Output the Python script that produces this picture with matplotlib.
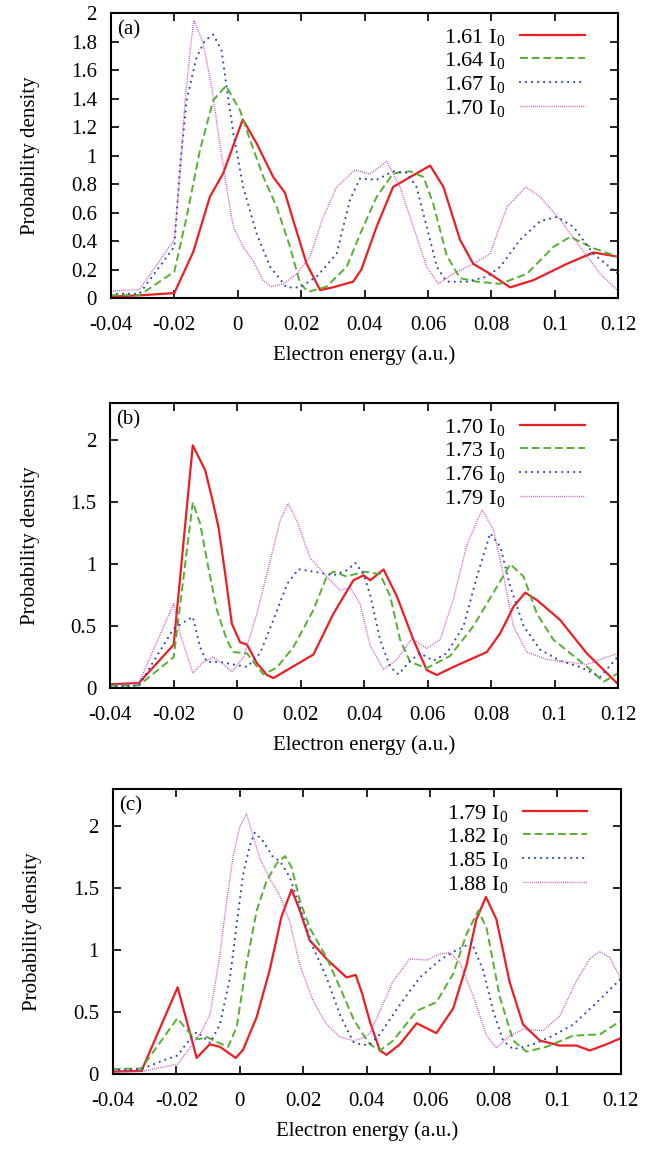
import matplotlib
matplotlib.use("Agg")
import matplotlib.pyplot as plt

plt.rcParams['font.family'] = ['Liberation Serif', 'DejaVu Serif']
plt.rcParams['mathtext.fontset'] = 'custom'
plt.rcParams['mathtext.rm'] = 'Liberation Serif'
plt.rcParams['mathtext.it'] = 'Liberation Serif'
plt.rcParams['axes.unicode_minus'] = False

# ---- panel (a) ----
a_labels = ["1.61 I$_0$", "1.64 I$_0$", "1.67 I$_0$", "1.70 I$_0$"]
a1_x = [-0.04, -0.03, -0.02, -0.014, -0.0088, -0.0046, 0.0016, 0.006, 0.0112, 0.0149, 0.0175, 0.0217, 0.026, 0.030, 0.0364, 0.039, 0.0438, 0.049, 0.0544, 0.0607, 0.0649, 0.0701, 0.0743, 0.0796, 0.0859, 0.0933, 0.1038, 0.1122, 0.12]
a1_y = [0.01, 0.02, 0.035, 0.325, 0.71, 0.875, 1.254, 1.085, 0.85, 0.74, 0.547, 0.243, 0.056, 0.075, 0.115, 0.2, 0.50, 0.78, 0.85, 0.93, 0.78, 0.41, 0.24, 0.17, 0.075, 0.126, 0.24, 0.32, 0.29]
a2_x = [-0.04, -0.031, -0.02, -0.0161, -0.0119, -0.0077, -0.0037, 0.0007, 0.0039, 0.0081, 0.0123, 0.0165, 0.0197, 0.0223, 0.028, 0.0344, 0.0386, 0.0438, 0.049, 0.0544, 0.0586, 0.0617, 0.0659, 0.0701, 0.0754, 0.0828, 0.0912, 0.0996, 0.1049, 0.1122, 0.12]
a2_y = [0.02, 0.02, 0.185, 0.57, 1.04, 1.39, 1.49, 1.32, 1.11, 0.85, 0.64, 0.36, 0.10, 0.044, 0.08, 0.22, 0.45, 0.71, 0.875, 0.89, 0.85, 0.66, 0.30, 0.14, 0.115, 0.10, 0.17, 0.36, 0.43, 0.35, 0.29]
a3_x = [-0.04, -0.031, -0.02, -0.0182, -0.0161, -0.013, -0.0103, -0.0077, -0.0051, -0.0035, -0.0014, 0.0017, 0.006, 0.0102, 0.0154, 0.0196, 0.0249, 0.0312, 0.0354, 0.0386, 0.0438, 0.049, 0.0533, 0.0564, 0.0596, 0.0628, 0.0659, 0.0722, 0.0786, 0.0828, 0.0891, 0.0954, 0.1007, 0.1059, 0.1122, 0.12]
a3_y = [0.03, 0.03, 0.36, 0.92, 1.39, 1.69, 1.81, 1.85, 1.74, 1.48, 1.16, 0.78, 0.45, 0.22, 0.075, 0.075, 0.15, 0.31, 0.69, 0.84, 0.83, 0.89, 0.88, 0.78, 0.50, 0.22, 0.115, 0.115, 0.15, 0.22, 0.41, 0.54, 0.57, 0.50, 0.31, 0.17]
a4_x = [-0.04, -0.031, -0.02, -0.0182, -0.0166, -0.015, -0.0138, -0.0109, -0.0082, -0.0056, -0.0035, -0.0014, 0.0017, 0.0049, 0.0081, 0.0107, 0.0144, 0.0186, 0.0228, 0.027, 0.0312, 0.037, 0.0417, 0.047, 0.0512, 0.0554, 0.0596, 0.0633, 0.068, 0.0743, 0.0796, 0.0849, 0.0909, 0.0954, 0.1017, 0.108, 0.1143, 0.12]
a4_y = [0.05, 0.06, 0.41, 0.87, 1.39, 1.74, 1.95, 1.79, 1.48, 1.08, 0.78, 0.50, 0.36, 0.26, 0.12, 0.08, 0.10, 0.17, 0.29, 0.57, 0.78, 0.90, 0.87, 0.96, 0.78, 0.50, 0.22, 0.10, 0.17, 0.24, 0.31, 0.64, 0.78, 0.71, 0.55, 0.36, 0.17, 0.05]

# ---- panel (b) ----
b_labels = ["1.70 I$_0$", "1.73 I$_0$", "1.76 I$_0$", "1.79 I$_0$"]
b1_x = [-0.04, -0.031, -0.02, -0.014, -0.0101, -0.008, -0.0059, -0.0038, -0.0017, 0.0009, 0.0031, 0.0062, 0.0094, 0.0114, 0.0157, 0.024, 0.0303, 0.0366, 0.0398, 0.0419, 0.0461, 0.0503, 0.0555, 0.0597, 0.0629, 0.0681, 0.0786, 0.0828, 0.087, 0.0907, 0.0944, 0.1017, 0.1101, 0.12]
b1_y = [0.03, 0.04, 0.35, 1.96, 1.76, 1.54, 1.30, 0.925, 0.52, 0.37, 0.35, 0.20, 0.105, 0.08, 0.145, 0.27, 0.60, 0.87, 0.91, 0.87, 0.957, 0.74, 0.39, 0.145, 0.105, 0.17, 0.29, 0.44, 0.655, 0.77, 0.71, 0.55, 0.28, 0.03]
b2_x = [-0.04, -0.031, -0.02, -0.014, -0.0117, -0.009, -0.0064, -0.0033, -0.0012, 0.0031, 0.0057, 0.0083, 0.0125, 0.0177, 0.024, 0.0282, 0.0303, 0.0345, 0.0398, 0.045, 0.0482, 0.0513, 0.0545, 0.0597, 0.0671, 0.0744, 0.0807, 0.086, 0.0902, 0.0944, 0.0996, 0.1059, 0.1112, 0.1154, 0.12]
b2_y = [0.02, 0.02, 0.25, 1.50, 1.33, 0.96, 0.63, 0.39, 0.29, 0.28, 0.19, 0.11, 0.165, 0.33, 0.63, 0.90, 0.94, 0.90, 0.94, 0.92, 0.74, 0.39, 0.21, 0.16, 0.26, 0.50, 0.77, 1.00, 0.90, 0.60, 0.39, 0.26, 0.15, 0.05, 0.12]
b3_x = [-0.04, -0.031, -0.02, -0.014, -0.0117, -0.0096, -0.0054, -0.0012, 0.0031, 0.0072, 0.0114, 0.0157, 0.0193, 0.024, 0.0303, 0.0345, 0.0372, 0.0398, 0.0419, 0.045, 0.0482, 0.0508, 0.0545, 0.0576, 0.0618, 0.066, 0.0713, 0.0755, 0.0797, 0.0829, 0.086, 0.0902, 0.0954, 0.1017, 0.108, 0.1143, 0.12]
b3_y = [0.01, 0.02, 0.48, 0.575, 0.33, 0.21, 0.21, 0.19, 0.17, 0.28, 0.55, 0.84, 0.96, 0.94, 0.91, 0.95, 1.01, 0.92, 0.75, 0.39, 0.17, 0.11, 0.22, 0.28, 0.22, 0.28, 0.50, 0.90, 1.25, 1.14, 0.82, 0.50, 0.31, 0.22, 0.17, 0.09, 0.255]
b4_x = [-0.04, -0.031, -0.02, -0.018, -0.014, -0.0106, -0.0075, -0.0043, -0.0017, 0.002, 0.0062, 0.0104, 0.0135, 0.016, 0.0188, 0.023, 0.0282, 0.0324, 0.0356, 0.0387, 0.0419, 0.0461, 0.0503, 0.055, 0.0597, 0.0639, 0.0681, 0.0723, 0.0771, 0.0807, 0.0839, 0.087, 0.0912, 0.0975, 0.1038, 0.1101, 0.1154, 0.12]
b4_y = [0.03, 0.04, 0.68, 0.44, 0.12, 0.21, 0.25, 0.19, 0.13, 0.25, 0.60, 1.03, 1.35, 1.49, 1.35, 1.05, 0.90, 0.79, 0.81, 0.68, 0.34, 0.15, 0.23, 0.40, 0.32, 0.39, 0.72, 1.15, 1.44, 1.28, 0.90, 0.50, 0.29, 0.23, 0.21, 0.19, 0.24, 0.28]

# ---- panel (c) ----
c_labels = ["1.79 I$_0$", "1.82 I$_0$", "1.85 I$_0$", "1.88 I$_0$"]
c1_x = [-0.04, -0.031, -0.0196, -0.0136, -0.0095, -0.0063, -0.0013, 0.001, 0.0053, 0.0094, 0.0131, 0.0163, 0.0189, 0.022, 0.0273, 0.0336, 0.0365, 0.0385, 0.041, 0.0441, 0.0462, 0.0504, 0.0557, 0.0619, 0.0672, 0.0714, 0.0745, 0.0775, 0.0808, 0.085, 0.0892, 0.0945, 0.1008, 0.106, 0.1102, 0.1155, 0.12]
c1_y = [0.02, 0.025, 0.70, 0.13, 0.24, 0.22, 0.13, 0.195, 0.46, 0.84, 1.27, 1.49, 1.32, 1.08, 0.93, 0.78, 0.80, 0.65, 0.42, 0.19, 0.155, 0.24, 0.41, 0.33, 0.53, 0.88, 1.25, 1.43, 1.25, 0.74, 0.40, 0.27, 0.23, 0.23, 0.19, 0.24, 0.29]
c2_x = [-0.04, -0.031, -0.0197, -0.0158, -0.0131, -0.0105, -0.0074, -0.0037, -0.001, 0.0021, 0.0053, 0.0084, 0.0116, 0.0142, 0.0163, 0.0189, 0.022, 0.0273, 0.0315, 0.0357, 0.0385, 0.041, 0.0441, 0.0483, 0.0557, 0.0619, 0.0672, 0.0714, 0.0751, 0.0777, 0.0819, 0.0861, 0.0903, 0.0966, 0.105, 0.1134, 0.12]
c2_y = [0.04, 0.045, 0.45, 0.33, 0.28, 0.30, 0.26, 0.22, 0.38, 0.89, 1.32, 1.56, 1.70, 1.76, 1.67, 1.40, 1.18, 0.94, 0.70, 0.45, 0.33, 0.24, 0.19, 0.27, 0.51, 0.58, 0.81, 1.13, 1.32, 1.18, 0.62, 0.27, 0.18, 0.22, 0.31, 0.32, 0.43]
c3_x = [-0.04, -0.031, -0.0231, -0.0196, -0.0158, -0.0136, -0.0115, -0.0094, -0.0063, -0.0031, -0.001, 0.001, 0.0032, 0.0047, 0.0073, 0.0105, 0.0126, 0.0157, 0.0189, 0.0231, 0.0273, 0.0315, 0.0357, 0.0385, 0.041, 0.0441, 0.0504, 0.0567, 0.063, 0.0682, 0.073, 0.0766, 0.0798, 0.0829, 0.0861, 0.0924, 0.0987, 0.105, 0.1113, 0.12]
c3_y = [0.03, 0.04, 0.12, 0.15, 0.28, 0.34, 0.30, 0.25, 0.40, 0.78, 1.21, 1.61, 1.85, 1.95, 1.88, 1.75, 1.72, 1.59, 1.35, 1.02, 0.78, 0.48, 0.26, 0.235, 0.24, 0.32, 0.56, 0.78, 0.92, 1.00, 1.06, 0.84, 0.51, 0.27, 0.20, 0.24, 0.31, 0.40, 0.55, 0.77]
c4_x = [-0.04, -0.031, -0.0196, -0.0158, -0.0126, -0.0094, -0.0063, -0.0042, -0.0021, 0.0, 0.0021, 0.0042, 0.0063, 0.0094, 0.0126, 0.0157, 0.0189, 0.0231, 0.0273, 0.0315, 0.0357, 0.0385, 0.041, 0.0441, 0.0483, 0.0535, 0.0588, 0.063, 0.0661, 0.0693, 0.0735, 0.0777, 0.0808, 0.085, 0.0892, 0.0955, 0.1008, 0.106, 0.1102, 0.1134, 0.1165, 0.12]
c4_y = [0.02, 0.02, 0.08, 0.21, 0.32, 0.48, 0.96, 1.39, 1.76, 2.00, 2.10, 1.92, 1.74, 1.58, 1.44, 1.23, 0.88, 0.59, 0.40, 0.30, 0.27, 0.29, 0.33, 0.51, 0.75, 0.93, 0.92, 0.97, 0.98, 0.90, 0.63, 0.31, 0.21, 0.31, 0.36, 0.35, 0.47, 0.75, 0.93, 0.99, 0.94, 0.77]

x_ticks = [-0.04, -0.02, 0, 0.02, 0.04, 0.06, 0.08, 0.1, 0.12]
x_ticklabels = ["-0.04", "-0.02", "0", "0.02", "0.04", "0.06", "0.08", "0.1", "0.12"]
a_yticks = [0, 0.2, 0.4, 0.6, 0.8, 1, 1.2, 1.4, 1.6, 1.8, 2]
a_yticklabels = ["0", "0.2", "0.4", "0.6", "0.8", "1", "1.2", "1.4", "1.6", "1.8", "2"]
bc_yticks = [0, 0.5, 1, 1.5, 2]
bc_yticklabels = ["0", "0.5", "1", "1.5", "2"]

colors = ["#ee1d23", "#55b030", "#2f48b0", "#c43cb4"]
styles = [dict(linestyle='-', linewidth=1.6),
          dict(linestyle=(0, (4, 2)), linewidth=1.4),
          dict(linestyle=(0, (0.01, 2.7)), linewidth=1.6, dash_capstyle='round'),
          dict(linestyle=(0, (0.6, 0.9)), linewidth=1.0)]

fs = 15

fig = plt.figure(figsize=(6.64, 11.53), dpi=100)

panels = [
    ([0.167, 0.7415, 0.764, 0.247], "(a)", [(a1_x, a1_y), (a2_x, a2_y), (a3_x, a3_y), (a4_x, a4_y)], a_labels, 2.0, a_yticks, a_yticklabels),
    ([0.166, 0.4033, 0.765, 0.247], "(b)", [(b1_x, b1_y), (b2_x, b2_y), (b3_x, b3_y), (b4_x, b4_y)], b_labels, 2.3, bc_yticks, bc_yticklabels),
    ([0.170, 0.0685, 0.765, 0.247], "(c)", [(c1_x, c1_y), (c2_x, c2_y), (c3_x, c3_y), (c4_x, c4_y)], c_labels, 2.3, bc_yticks, bc_yticklabels),
]

for rect, tag, curves, labels, ymax, yt, ytl in panels:
    ax = fig.add_axes(rect)
    for i in range(4):
        ax.plot(curves[i][0], curves[i][1], color=colors[i], label=labels[i], **styles[i])
    ax.set_xlim(-0.04, 0.12)
    ax.set_ylim(0, ymax)
    ax.set_xticks(x_ticks)
    ax.set_xticklabels(x_ticklabels)
    ax.set_yticks(yt)
    ax.set_yticklabels(ytl)
    ax.tick_params(direction='in', top=True, right=True, length=6, width=1.2, labelsize=fs)
    ax.tick_params(axis='x', pad=13)
    ax.tick_params(axis='y', pad=10)
    for sp in ax.spines.values():
        sp.set_linewidth(1.5)
    ax.set_xlabel("Electron energy (a.u.)", fontsize=fs, labelpad=7)
    ax.set_ylabel("Probability density", fontsize=fs, labelpad=22)
    ax.text(0.012, 0.975, tag, transform=ax.transAxes, fontsize=fs, va='top', ha='left')
    ax.legend(loc='upper right', frameon=False, fontsize=16, markerfirst=False,
              handlelength=2.9, handletextpad=0.65, labelspacing=0.12,
              borderaxespad=0.2, bbox_to_anchor=(0.96, 1.0))

fig.savefig("out.png", dpi=100)
